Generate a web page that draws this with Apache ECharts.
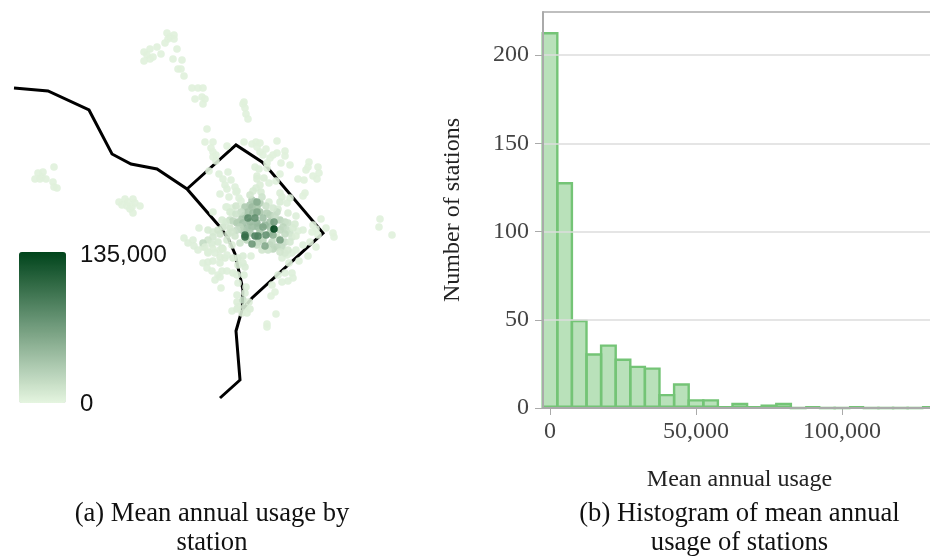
<!DOCTYPE html>
<html><head><meta charset="utf-8">
<style>html,body{margin:0;padding:0;background:#fff}#c{width:930px;height:556px}</style>
<script src="https://cdn.jsdelivr.net/npm/echarts@6/dist/echarts.min.js"></script></head>
<body><div id="c"></div>
<script>
// Histogram
const binCentres=[0,5000,10000,15000,20000,25000,30000,35000,40000,45000,50000,55000,60000,65000,70000,75000,80000,85000,90000,95000,100000,105000,110000,115000,120000,125000,130000];
const binCounts=[213,128,50,31,36,28,24,23,8,14,5,5,1,3,1,2,3,0,1,0,0,1,0,0,0,0,1];
const xTicks=[0,50000,100000];
const yTicks=[0,50,100,150,200];
// Map outlines [map x, map y]
const riverLine=[[14,88],[48,91],[89,110],[112,154],[131,164],[157,169],[187,189],[220,227],[228,238],[235,254],[243,290],[242,310],[236,331],[240,380],[220,398]];
const districtLine=[[187,189],[236,145],[262,162],[267,167],[323,233],[252,298],[242,310]];
// Stations [map x, map y, mean annual usage]
const paleStations=[[167,33,3000],[170,37,3000],[174,35,3000],[174,39,3000],[168,39,3000],[165,43,3000],[157,47,3000],[150,49,3000],[144,52,3000],[147,55,3000],[153,57,3000],[150,59,3000],[144,61,3000],[161,54,3000],[177,49,3000],[173,59,3000],[182,60,3000],[178,69,3000],[181,69,3000],[184,76,3000],
[192,88,3000],[198,88,3000],[203,88,3000],[195,99,3000],[202,97,3000],[205,99,3000],[203,104,3000],[207,129,3000],[205,142,3000],[213,142,3000],[211,148,3000],[213,152,3000],[216,155,3000],[213,157,3000],[216,161,3000],[209,171,3000],[227,146,3000],
[54,167,3000],[43,172,3000],[38,173,3000],[42,177,3000],[35,179,3000],[40,179,3000],[46,179,3000],[53,182,3000],[54,187,3000],[57,188,3000],
[119,202,3000],[125,199,3000],[133,199,3000],[128,202,3000],[135,203,3000],[122,205,3000],[127,206,3000],[132,207,3000],[140,206,3000],[130,209,3000],[133,213,3000],
[219,174,4000],[228,172,4000],[223,179,4000],[231,180,4000],[225,185,4000],[227,189,4000],[235,187,4000],[237,191,4000],[220,194,4000],[229,197,4000],[239,198,4000],[227,207,4000],[232,208,4000],[213,212,4000],[232,213,4000],[236,192,4000],[241,201,4000],[226,207,4000],[243,207,4000],
[244,102,3000],[243,104,3000],[245,108,3000],[246,114,3000],[248,119,3000],[244,142,3000],[252,144,3000],[256,142,3000],[260,143,3000],[257,147,3000],[266,149,3000],[260,152,3000],[277,141,3000],[263,155,3000],[277,153,3000],[273,155,3000],[285,151,3000],[285,156,3000],[270,158,3000],[267,163,3000],[281,163,3000],[290,165,3000],[267,168,3000],[255,167,4000],[259,169,4000],[280,174,3000],
[309,162,3000],[308,167,3000],[306,170,3000],[318,167,3000],[319,173,3000],[313,176,3000],[317,179,3000],[298,179,3000],[304,180,3000],[305,193,3000],[303,196,3000],
[257,176,6000],[264,178,6000],[269,183,4000],[276,181,4000],[257,179,6000],[260,185,6000],[256,188,7000],[253,191,8000],[261,192,8000],[280,193,6000],[282,197,6000],[290,198,5000],[280,202,7000],[287,203,5000],[269,202,5000],[296,216,5000],[288,213,6000],[278,209,7000],
[321,219,3000],[313,225,3000],[316,229,3000],[312,232,3000],[326,228,3000],[333,233,3000],[334,237,3000],[303,230,4000],[298,231,4000],[380,219,3000],[379,227,3000],[392,235,3000],[310,242,3000],[316,247,3000],[318,235,3000],
[184,238,4000],[188,243,5000],[193,240,5000],[194,246,5000],[199,228,4000],[208,230,8000],[213,232,8000],[218,230,12000],[223,227,12000],[230,228,12000],[230,220,16000],[220,234,12000],[228,234,12000],[213,237,10000],[218,242,8000],[208,240,12000],[212,244,8000],[203,247,6000],[198,250,5000],[208,252,6000],[213,249,6000],[222,248,8000],[203,243,20000],
[205,247,6000],[208,253,5000],[215,253,5000],[220,250,6000],[223,249,6000],[220,257,6000],[225,258,6000],[227,255,5000],[233,258,7000],[238,258,7000],[243,256,7000],[251,256,4000],[243,263,7000],[238,265,7000],[245,267,7000],[203,263,4000],[208,262,5000],[213,261,5000],[220,263,5000],[207,268,4000],[212,271,4000],[222,271,5000],[218,275,4000],[227,271,5000],[233,273,5000],[237,275,5000],[244,275,5000],[215,280,4000],[220,277,5000],[238,283,4000],[246,287,4000],[221,288,3000],
[237,295,5000],[245,293,5000],[237,302,6000],[243,300,16000],[249,302,6000],[238,307,6000],[245,307,7000],[250,309,6000],[232,311,4000],[237,309,6000],[242,313,6000],[247,313,6000],[276,314,3000],[267,324,3000],[267,327,3000],
[282,258,5000],[287,255,5000],[292,253,4000],[296,250,4000],[303,245,4000],[308,256,3000],[299,261,3000],[289,263,4000],[292,273,4000],[293,278,4000],[288,281,4000],[282,282,4000],[278,275,4000],[285,273,4000],[272,285,3000],[275,292,3000],[271,296,3000]];
const midStations=[[255,202,42000],[252,200,32000],[250,205,34000],[260,203,30000],[245,207,32000],[252,207,42000],[257,207,36000],[248,212,38000],[253,213,44000],[260,212,36000],[267,213,30000],[245,215,34000],[242,218,34000],[238,222,30000],[233,221,22000],[237,223,30000],[243,223,40000],[250,222,46000],[257,223,48000],[263,218,40000],[270,215,28000],[277,212,18000],[270,222,38000],[280,220,26000],[285,222,20000],[288,223,16000],[283,227,24000],[287,230,18000],[290,233,14000],[285,234,20000],[280,230,22000],[270,227,40000],[265,225,46000],[258,227,46000],[252,227,44000],[247,228,40000],[242,230,32000],[250,233,34000],[260,232,36000],[270,233,30000],[277,237,8000],[272,242,20000],[277,247,24000],[273,249,24000],[282,247,20000],[285,242,18000],[292,237,10000],[247,240,24000],[258,242,26000],[263,240,24000],[257,245,18000],[270,245,22000],[285,253,9000],[288,250,9000],[240,227,26000],
[230,212,8000],[236,206,12000],[241,212,18000],[236,214,14000],[250,195,12000],[262,197,14000],[266,206,16000],[273,208,10000],[275,216,18000],[295,224,8000],[293,228,8000],[296,236,6000],[290,242,10000],[280,252,12000],[268,250,14000],[262,250,12000],[240,243,14000],[235,236,12000],[237,230,18000],[232,232,12000],[226,222,10000],[222,220,8000],[227,240,8000],[232,245,6000]];
const darkStations=[[257,202,55000],[257,212,58000],[265,246,58000],[263,227,60000],[273,235,52000],[274,222,68000],[280,240,66000],[252,244,72000],[255,218,78000],[248,218,82000],[266,235,76000],[255,236,88000],[258,236,88000],[245,235,100000],[245,237,104000],[274,229,135000]];
const stations=[...paleStations,...midStations,...darkStations];

const serif='"Liberation Serif","Times New Roman",serif';
const chart=echarts.init(document.getElementById('c'),null,{renderer:'canvas'});
const outline=(d)=>({type:'line',xAxisIndex:0,yAxisIndex:0,data:d,symbol:'none',silent:true,lineStyle:{color:'#000',width:3,cap:'butt',join:'miter'},z:2,animation:false});
chart.setOption({
 animation:false,
 backgroundColor:'#fff',
 grid:[{left:0,top:0,width:930,height:556},{left:543,top:12,width:387,height:396}],
 xAxis:[
  {gridIndex:0,type:'value',min:0,max:930,show:false},
  {gridIndex:1,type:'value',min:-2400,max:130150,position:'bottom',splitLine:{show:false},z:6,
   axisLine:{show:true,onZero:false,lineStyle:{color:'#aaa',width:2}},
   axisTick:{show:true,customValues:xTicks,length:7,lineStyle:{color:'#aaa',width:1}},
   axisLabel:{customValues:xTicks,color:'#444',fontFamily:serif,fontSize:24,margin:12,formatter:v=>v.toLocaleString('en-US')},
   name:'Mean annual usage',nameLocation:'middle',nameGap:60,nameMoveOverlap:false,nameTextStyle:{fontFamily:serif,fontSize:24,color:'#222',padding:[0,0,0,6]}},
  {gridIndex:1,type:'value',min:-2400,max:130150,position:'top',splitLine:{show:false},axisLine:{show:true,onZero:false,lineStyle:{color:'#aaa',width:1.5}},axisTick:{show:false},axisLabel:{show:false}}
 ],
 yAxis:[
  {gridIndex:0,type:'value',min:0,max:556,inverse:true,show:false},
  {gridIndex:1,type:'value',min:0,max:224.4,interval:25,z:6,splitLine:{show:true,lineStyle:{color:'#ddd',width:1.5}},
   axisLine:{show:true,onZero:false,lineStyle:{color:'#aaa',width:2}},
   axisTick:{show:true,customValues:yTicks,length:8,lineStyle:{color:'#aaa',width:1}},
   axisLabel:{customValues:yTicks,color:'#444',fontFamily:serif,fontSize:24,margin:14,padding:[4,0,0,0]},
   name:'Number of stations',nameLocation:'middle',nameGap:78,nameMoveOverlap:false,nameTextStyle:{fontFamily:serif,fontSize:24,color:'#222'}}
 ],
 visualMap:{type:'continuous',seriesIndex:2,dimension:2,min:0,max:135000,calculable:false,orient:'vertical',left:19,top:252,padding:0,borderRadius:0,itemWidth:47,itemHeight:151,showLabel:false,inRange:{color:['#e5f5e0','#00441b']}},
 graphic:[
  {type:'text',left:80,top:243,style:{text:'135,000',font:'24px "Liberation Sans",Arial,sans-serif',fill:'#111'}},
  {type:'text',left:80,top:392,style:{text:'0',font:'24px "Liberation Sans",Arial,sans-serif',fill:'#111'}},
  {type:'text',x:212,y:500,style:{text:'(a) Mean annual usage by\nstation',font:'26.6px "Liberation Serif",serif',fill:'#111',align:'center',lineHeight:29}},
  {type:'text',x:739.5,y:500,style:{text:'(b) Histogram of mean annual\nusage of stations',font:'26.6px "Liberation Serif",serif',fill:'#111',align:'center',lineHeight:29}}
 ],
 series:[
  outline(riverLine),
  outline(districtLine),
  {type:'scatter',xAxisIndex:0,yAxisIndex:0,data:stations,symbolSize:7.6,itemStyle:{opacity:0.9},z:3,silent:true},
  {type:'bar',xAxisIndex:1,yAxisIndex:1,data:binCentres.map((c,i)=>[c,binCounts[i]]),barWidth:17,barGap:'-100%',itemStyle:{color:'rgba(116,196,118,0.5)',borderColor:'#74c476',borderWidth:2.4},z:4,silent:true}
 ]
});
</script></body></html>
